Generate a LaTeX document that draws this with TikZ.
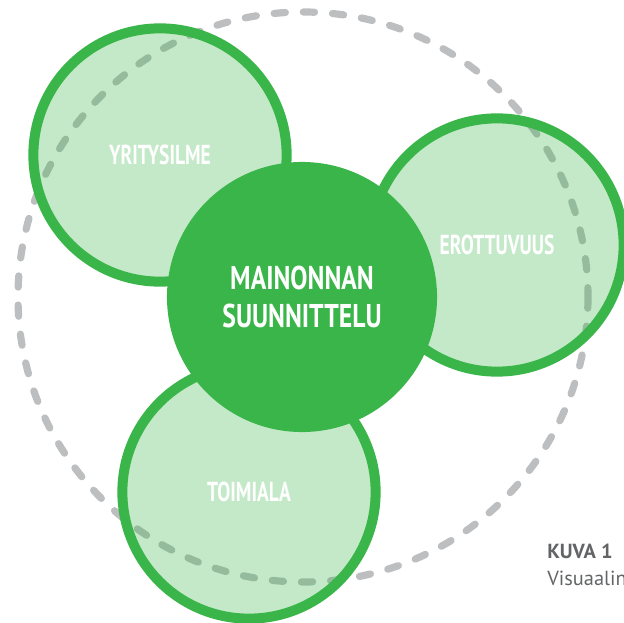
\documentclass[tikz,border=0pt]{standalone}
\usepackage{fontspec}
\newfontfamily\kapea[FakeStretch=0.78]{PT Sans}
\newfontfamily\kapeampi[FakeStretch=0.71]{PT Sans}
\newfontfamily\leipa{PT Sans}
\definecolor{vihrea}{RGB}{58,181,74}
\definecolor{katko}{RGB}{188,190,192}
\definecolor{kuvateksti}{RGB}{99,100,102}
\begin{document}
\begin{tikzpicture}[x=0.025cm,y=-0.025cm,
  osa/.style={circle,draw=vihrea,line width=0.25cm,fill=vihrea,fill opacity=0.3,text opacity=1,
    minimum size=6.33cm,inner sep=0pt,text=white,font=\kapeampi\bfseries\fontsize{19.5}{22}\selectfont},
  ydin/.style={circle,fill=vihrea,minimum size=6.75cm,inner sep=0pt,text=white,align=center,
    font=\kapea\bfseries\fontsize{23.4}{27.7}\selectfont},
  selite/.style={anchor=base west,inner sep=0pt,text=kuvateksti}]
\clip (0,0) rectangle (624,623);
% katkoviiva jaa taustalle
\draw[katko,line width=0.18cm,line cap=round,dash pattern=on 0.28cm off 0.45cm] (303,297) circle [radius=285];
\node (yritysilme) at (160,155) [osa] {YRITYSILME};
\node (erottuvuus) at (497,245) [osa] {EROTTUVUUS};
\node (toimiala) at (249,492) [osa] {TOIMIALA};
\node (mainonta) at (302,297) [ydin] {MAINONNAN\\SUUNNITTELU};
\node (kuva) at (547,558) [selite,font=\leipa\bfseries\fontsize{14.5}{16}\selectfont] {KUVA 1};
\node (visuaalin) at (547,585) [selite,font=\leipa\fontsize{14.5}{16}\selectfont] {Visuaalin};
\end{tikzpicture}
\end{document}
